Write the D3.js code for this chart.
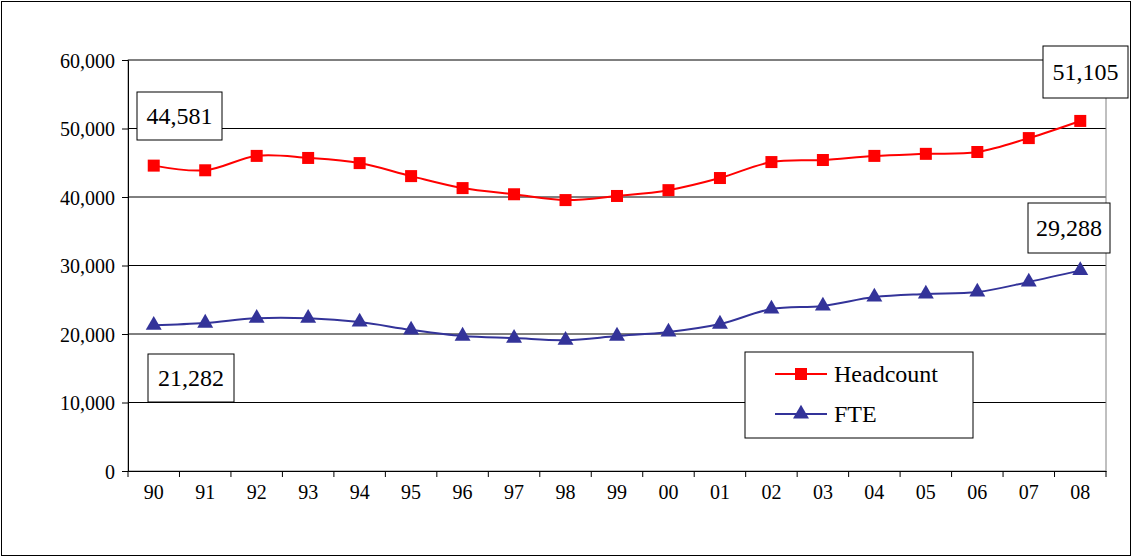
<!DOCTYPE html><html><head><meta charset="utf-8"><script src="https://cdn.jsdelivr.net/npm/d3@7"></script>
<style>body{margin:0;background:#fff}svg text{font-family:"Times New Roman","Liberation Serif","DejaVu Serif",serif !important;font-size:20px;fill:#000}svg text.big{font-size:24px}</style></head><body>
<svg width="1133" height="558"></svg>
<script>
const years=["90","91","92","93","94","95","96","97","98","99","00","01","02","03","04","05","06","07","08"];
const headcount=[44581,43900,46000,45700,44950,43050,41300,40400,39550,40150,41000,42770,45100,45400,46000,46300,46570,48600,51105];
const fte=[21282,21600,22300,22300,21750,20600,19700,19400,19100,19700,20300,21450,23650,24100,25400,25850,26130,27600,29288];
const yTicks=[0,10000,20000,30000,40000,50000,60000];
const svg=d3.select("svg");
svg.append("rect").attr("x",1.5).attr("y",1.5).attr("width",1129).attr("height",554).attr("fill","none").attr("stroke","#000");
const x=d3.scaleBand().domain(years).range([128,1106]);
const y=d3.scaleLinear().domain([0,60000]).range([471,60]);
const fmt=d3.format(",");
yTicks.forEach(t=>{ if(t>0) svg.append("line").attr("x1",128).attr("x2",1106).attr("y1",y(t)).attr("y2",y(t)).attr("stroke","#000");});
svg.append("rect").attr("x",128).attr("y",60).attr("width",978).attr("height",411).attr("fill","none").attr("stroke","#808080");
const ya=svg.append("g").attr("transform","translate(128,0)").call(d3.axisLeft(y).tickValues(yTicks).tickFormat(fmt).tickSize(6));
const xa=svg.append("g").attr("transform","translate(0,471)").call(d3.axisBottom(x).tickSize(0).tickPadding(14));
[ya,xa].forEach(a=>{a.attr("font-family",null).attr("font-size",null);a.select(".domain").attr("stroke","#000");});
ya.selectAll("text").attr("dx","-4").attr("dy","0.35em");
xa.selectAll(".tk").data(d3.range(years.length+1)).enter().append("line").attr("x1",i=>128+i*x.step()).attr("x2",i=>128+i*x.step()).attr("y1",0).attr("y2",6).attr("stroke","#000");
const cx=d=>x(d)+x.bandwidth()/2;
const line=d3.line().curve(d3.curveCatmullRom).x((d,i)=>cx(years[i])).y(d=>y(d));
svg.append("path").attr("d",line(headcount)).attr("fill","none").attr("stroke","#ff0000").attr("stroke-width",2);
svg.append("path").attr("d",line(fte)).attr("fill","none").attr("stroke","#333399").attr("stroke-width",2);
svg.selectAll(".sq").data(headcount).enter().append("rect").attr("x",(d,i)=>cx(years[i])-6).attr("y",d=>y(d)-6).attr("width",12).attr("height",12).attr("fill","#ff0000");
const tri=d3.symbol().type(d3.symbolTriangle).size(110);
svg.selectAll(".tr").data(fte).enter().append("path").attr("d",tri).attr("transform",(d,i)=>`translate(${cx(years[i])},${y(d)})`).attr("fill","#333399");
function box(x0,y0,w,h,t){svg.append("rect").attr("x",x0).attr("y",y0).attr("width",w).attr("height",h).attr("fill","#fff").attr("stroke","#000");
svg.append("text").attr("class","big").attr("x",x0+w/2).attr("y",y0+h/2+8).attr("text-anchor","middle").text(t);}
box(137,92,85,48,fmt(headcount[0]));
box(1043,46,85,52,fmt(headcount[18]));
box(148,354,86,48,fmt(fte[0]));
box(1028,203,82,50,fmt(fte[18]));
svg.append("rect").attr("x",745).attr("y",352).attr("width",228).attr("height",86).attr("fill","#fff").attr("stroke","#000");
svg.append("line").attr("x1",775).attr("x2",827).attr("y1",374).attr("y2",374).attr("stroke","#ff0000").attr("stroke-width",2);
svg.append("rect").attr("x",795).attr("y",368).attr("width",12).attr("height",12).attr("fill","#ff0000");
svg.append("text").attr("class","big").attr("x",834).attr("y",382).text("Headcount");
svg.append("line").attr("x1",775).attr("x2",827).attr("y1",414).attr("y2",414).attr("stroke","#333399").attr("stroke-width",2);
svg.append("path").attr("d",tri).attr("transform","translate(801,414)").attr("fill","#333399");
svg.append("text").attr("class","big").attr("x",834).attr("y",422).text("FTE");
</script></body></html>
